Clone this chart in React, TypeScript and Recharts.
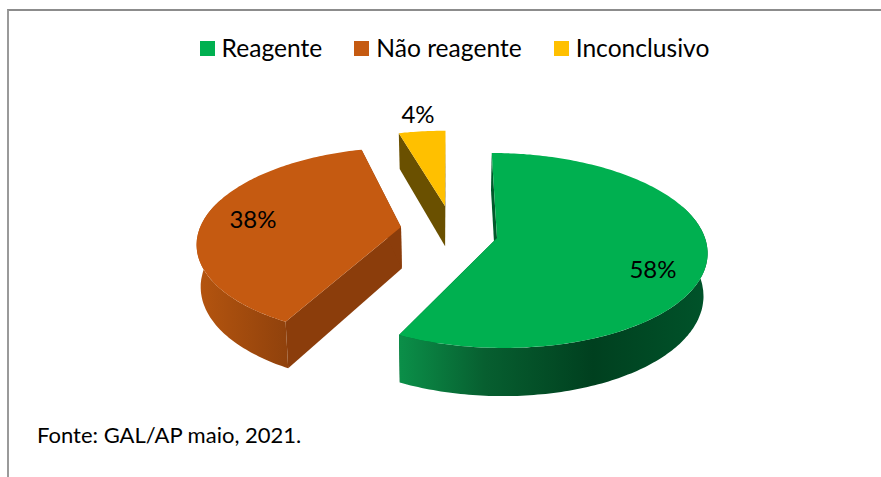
import { Legend, Pie, PieChart } from "recharts";

const categories = ["Reagente", "Não reagente", "Inconclusivo"];
const shares = [58, 38, 4];
const colors = ["#00B050", "#C55A11", "#FFC000"];
const faceColors = ["#005A2C", "#8B3D0B", "#6A5000"];
const sourceNote = "Fonte: GAL/AP maio, 2021.";

const data = categories.map((name, i) => ({ name, value: shares[i], fill: colors[i] }));

// hand-fitted perspective of the 3D pie
const K = 0.128;
const HORIZON = -511;
const GROUND = 749;
const VANISH_X = 450;
const RADIUS = 208;
const DEPTH = 42;
const DROP_PINCH = 0.016;
const FONT = "Lato, sans-serif";

// tip of each exploded slice on screen, and small per-slice corrections to the fit
const tips = [
  { x: 497, y: 238 },
  { x: 401, y: 227 },
  { x: 445, y: 206 },
];
const rimFits = [
  { dy: 0, rx: 1, startTrim: 0, endTrim: -2.5 },
  { dy: 3, rx: 0.985, startTrim: 0, endTrim: 0 },
  { dy: 3, rx: 1, startTrim: -0.8, endTrim: 0 },
];
const labelSpots = [
  { x: 653, y: 268 },
  { x: 253, y: 218 },
  { x: 418, y: 113 },
];
const rimStops = [
  [
    ["0%", "#0B9049"],
    ["28%", "#075F30"],
    ["63%", "#00401F"],
    ["100%", "#00532A"],
  ],
  [
    ["0%", "#B5550F"],
    ["100%", "#8F410C"],
  ],
  [
    ["0%", "#6A5000"],
    ["100%", "#6A5000"],
  ],
];
const rimSpans = [
  [398, 707],
  [197, 290],
  [399, 445],
];

const project = (index: number, theta: number, r: number, drop: number) => {
  const tip = tips[index];
  const fit = rimFits[index];
  const d0 = (GROUND / (tip.y - HORIZON) - 1) / K;
  const x0 = (tip.x - VANISH_X) * (1 + K * d0);
  const rad = (theta * Math.PI) / 180;
  const s = 1 / (1 + K * (d0 + r * Math.cos(rad)));
  const flat = (x0 + RADIUS * fit.rx * r * Math.sin(rad)) * s;
  const x = VANISH_X + flat * (1 - (DROP_PINCH * drop) / DEPTH);
  const y = HORIZON + (GROUND + drop) * s + fit.dy * r;
  return [x.toFixed(1), y.toFixed(1)].join(" ");
};

const arc = (index: number, from: number, to: number, drop: number) => {
  const pts: string[] = [];
  const steps = Math.max(2, Math.ceil(Math.abs(to - from)));
  for (let i = 0; i <= steps; i++) {
    pts.push(project(index, from + ((to - from) * i) / steps, 1, drop));
  }
  return pts;
};

const poly = (pts: string[]) => "M" + pts.join("L") + "Z";

const Slice3D = (props: any) => {
  const { index, startAngle, endAngle, fill } = props;
  const from = 90 - startAngle + rimFits[index].startTrim;
  const to = 90 - endAngle + rimFits[index].endTrim;
  const rimFrom = Math.max(from, 70);
  const rimTo = Math.min(to, 290);
  const id = "rim" + index;
  const face = (theta: number) =>
    poly([
      project(index, theta, 0, 0),
      project(index, theta, 1, 0),
      project(index, theta, 1, DEPTH),
      project(index, theta, 0, DEPTH),
    ]);
  return (
    <g>
      <defs>
        <linearGradient id={id} gradientUnits="userSpaceOnUse" x1={rimSpans[index][0]} x2={rimSpans[index][1]} y1={0} y2={0}>
          {rimStops[index].map(([offset, color]) => (
            <stop key={offset} offset={offset} stopColor={color} />
          ))}
        </linearGradient>
      </defs>
      <path d={face(from)} fill={faceColors[index]} />
      <path d={face(to)} fill={faceColors[index]} />
      {rimTo > rimFrom && (
        <path
          d={poly([...arc(index, rimFrom, rimTo, 0), ...arc(index, rimTo, rimFrom, DEPTH)])}
          fill={`url(#${id})`}
        />
      )}
      <path d={poly([project(index, from, 0, 0), ...arc(index, from, to, 0)])} fill={fill} />
    </g>
  );
};

const sliceLabel = (props: any) => {
  const spot = labelSpots[props.index];
  return (
    <text x={spot.x} y={spot.y} textAnchor="middle" dominantBaseline="central" fill="#000" fontFamily={FONT} fontSize={24}>
      {shares[props.index]}%
    </text>
  );
};

const legendContent = (props: any) => {
  const items = [...(props.payload || [])].sort(
    (a: any, b: any) => categories.indexOf(a.value) - categories.indexOf(b.value)
  );
  return (
    <div style={{ display: "flex", justifyContent: "center", fontFamily: FONT, fontSize: 24.6, color: "#000", lineHeight: "30px" }}>
      {items.map((entry: any, i: number) => (
        <span key={entry.value} style={{ display: "flex", alignItems: "center", marginRight: i < 2 ? 32 : 0 }}>
          <span style={{ width: 15, height: 15, background: entry.color, marginRight: 7, display: "inline-block" }} />
          {entry.value}
        </span>
      ))}
    </div>
  );
};

export default function App() {
  return (
    <div style={{ position: "absolute", left: 0, top: 0, width: 881, height: 477, background: "#fff", overflow: "hidden" }}>
      <div style={{ position: "absolute", left: 7, top: 9, right: 0, bottom: 0, borderTop: "2px solid #8c8c8c", borderLeft: "2px solid #9a9a9a" }} />
      <PieChart width={881} height={477} style={{ position: "absolute", left: 0, top: 0 }}>
        <Pie
          data={data}
          dataKey="value"
          nameKey="name"
          cx={497}
          cy={238}
          outerRadius={100}
          startAngle={90}
          endAngle={-270}
          stroke="none"
          shape={Slice3D}
          label={sliceLabel}
          labelLine={false}
          isAnimationActive={false}
        />
        <Legend
          verticalAlign="top"
          content={legendContent}
          wrapperStyle={{ position: "absolute", left: 0, top: 33, width: 909 }}
        />
      </PieChart>
      <div style={{ position: "absolute", left: 37, top: 421, fontFamily: FONT, fontSize: 22, lineHeight: "28px", color: "#000", whiteSpace: "nowrap" }}>
        {sourceNote}
      </div>
    </div>
  );
}
